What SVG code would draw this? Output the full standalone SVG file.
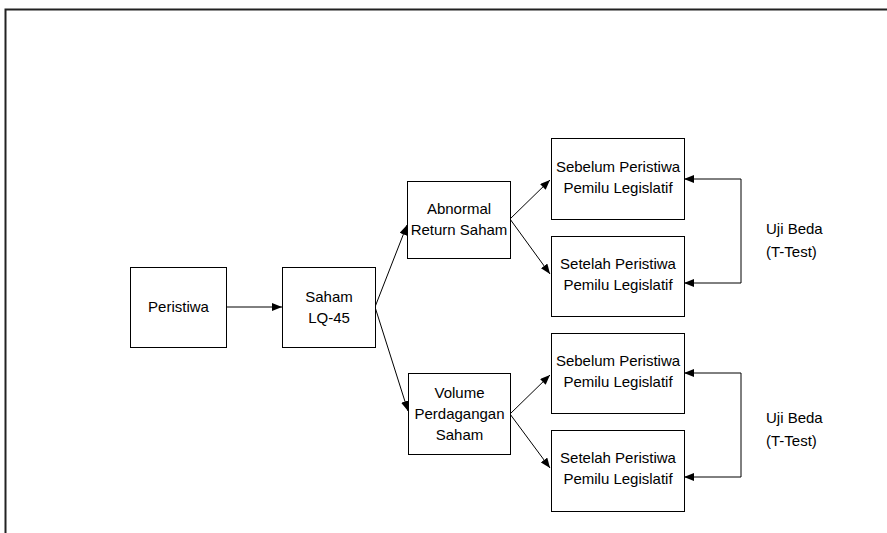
<svg xmlns="http://www.w3.org/2000/svg" width="887" height="533" viewBox="0 0 887 533">
<style>
.box{fill:#fff;stroke:#000;stroke-width:1}
.t{font-family:"Liberation Sans",Arial,sans-serif;font-size:15px;fill:#000;text-anchor:middle}
.lbl{font-family:"Liberation Sans",Arial,sans-serif;font-size:15px;fill:#000}
.c{fill:none;stroke:#000;stroke-width:1}
</style>
<defs>
<marker id="ah" viewBox="0 0 10 8" refX="10" refY="4" markerWidth="10" markerHeight="8" markerUnits="userSpaceOnUse" orient="auto">
<path d="M0,0 L10,4 L0,8 Z" fill="#000"/>
</marker>
</defs>
<rect width="887" height="533" fill="#fff"/>
<g id="frame">
<path d="M5.5,533 V9.5 H887" fill="none" stroke="#222" stroke-width="2"/>
</g>
<g id="connectors">
<line class="c" x1="227" y1="307" x2="282" y2="307" marker-end="url(#ah)"/>
<line class="c" x1="375" y1="307" x2="407" y2="225" marker-end="url(#ah)"/>
<line class="c" x1="375" y1="307" x2="408" y2="411" marker-end="url(#ah)"/>
<line class="c" x1="510" y1="219" x2="550" y2="180" marker-end="url(#ah)"/>
<line class="c" x1="510" y1="219" x2="550" y2="274" marker-end="url(#ah)"/>
<line class="c" x1="510" y1="414" x2="550" y2="375" marker-end="url(#ah)"/>
<line class="c" x1="510" y1="414" x2="550" y2="468" marker-end="url(#ah)"/>
<path class="c" d="M741,179 V283"/>
<line class="c" x1="741" y1="179" x2="684" y2="179" marker-end="url(#ah)"/>
<line class="c" x1="741" y1="283" x2="684" y2="283" marker-end="url(#ah)"/>
<path class="c" d="M741,373 V477"/>
<line class="c" x1="741" y1="373" x2="684" y2="373" marker-end="url(#ah)"/>
<line class="c" x1="741" y1="477" x2="684" y2="477" marker-end="url(#ah)"/>
</g>
<g id="peristiwa">
<rect class="box" x="130.5" y="267.5" width="96" height="80"/>
<text class="t" x="178.5" y="312">Peristiwa</text>
</g>
<g id="saham">
<rect class="box" x="282.5" y="267.5" width="93" height="80"/>
<text class="t" x="329" y="302">Saham</text>
<text class="t" x="329" y="323">LQ-45</text>
</g>
<g id="abnormal">
<rect class="box" x="407.5" y="181.5" width="103" height="77"/>
<text class="t" x="459" y="214">Abnormal</text>
<text class="t" x="459" y="235">Return Saham</text>
</g>
<g id="volume">
<rect class="box" x="408.5" y="373.5" width="102" height="81"/>
<text class="t" x="459.5" y="398">Volume</text>
<text class="t" x="459.5" y="419">Perdagangan</text>
<text class="t" x="459.5" y="440">Saham</text>
</g>
<g id="sebelum1">
<rect class="box" x="551.5" y="138.5" width="133" height="81"/>
<text class="t" x="618" y="172">Sebelum Peristiwa</text>
<text class="t" x="618" y="193">Pemilu Legislatif</text>
</g>
<g id="setelah1">
<rect class="box" x="551.5" y="236.5" width="133" height="80"/>
<text class="t" x="618" y="269">Setelah Peristiwa</text>
<text class="t" x="618" y="290">Pemilu Legislatif</text>
</g>
<g id="sebelum2">
<rect class="box" x="551.5" y="333.5" width="133" height="80"/>
<text class="t" x="618" y="366">Sebelum Peristiwa</text>
<text class="t" x="618" y="387">Pemilu Legislatif</text>
</g>
<g id="setelah2">
<rect class="box" x="551.5" y="430.5" width="133" height="81"/>
<text class="t" x="618" y="463">Setelah Peristiwa</text>
<text class="t" x="618" y="484">Pemilu Legislatif</text>
</g>
<g id="ujibeda1">
<text class="lbl" x="766" y="234">Uji Beda</text>
<text class="lbl" x="766" y="257">(T-Test)</text>
</g>
<g id="ujibeda2">
<text class="lbl" x="766" y="423">Uji Beda</text>
<text class="lbl" x="766" y="446">(T-Test)</text>
</g>
</svg>
